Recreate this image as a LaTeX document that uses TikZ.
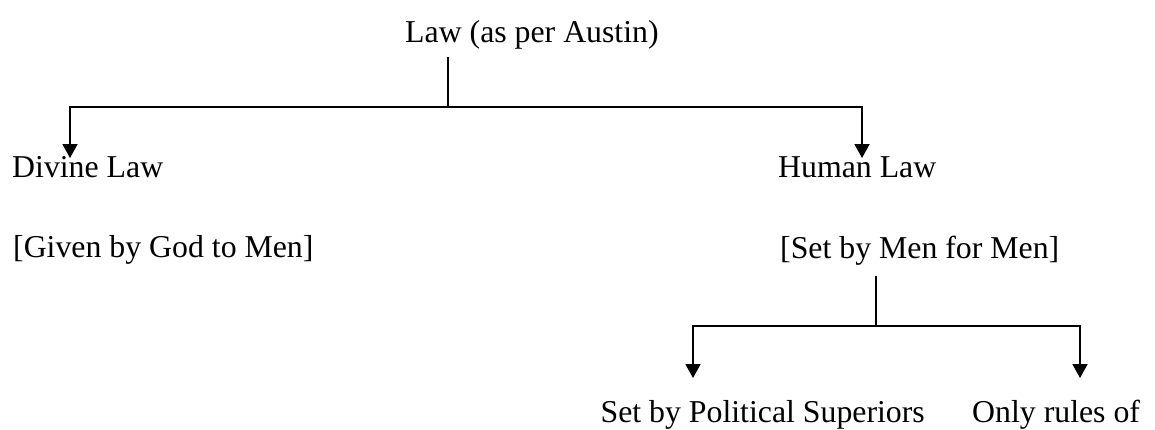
\documentclass[tikz,border=0pt]{standalone}
\usepackage{fontspec}
\setmainfont{Liberation Serif}
\usetikzlibrary{arrows.meta}
\begin{document}
\begin{tikzpicture}[x=1pt,y=-1pt,
  lbl/.style={inner sep=0pt,font=\fontsize{31.8}{38}\selectfont},
  conn/.style={line width=1.8pt,line cap=rect},
  arr/.style={line width=1.8pt,-{Triangle[width=15pt,length=14pt]}}]
\useasboundingbox[fill=white] (0,0) rectangle (1155,429);
% texts
\node[lbl,anchor=base west] (law) at (405,42) {Law (as per Austin)};
\node[lbl,anchor=base west] (divine) at (12,177) {Divine Law};
\node[lbl,anchor=base west] (human) at (778,177) {Human Law};
\node[lbl,anchor=base west] (given) at (13,257) {[Given by God to Men]};
\node[lbl,anchor=base west] (setby) at (780,258) {[Set by Men for Men]};
\node[lbl,anchor=base east] (political) at (925,422) {Set by Political Superiors};
\node[lbl,anchor=base west] (rules) at (972,422) {Only rules of};
% connector points
\coordinate (lawb) at (448,58);
\coordinate (j1) at (448,107);
\coordinate (j1l) at (70,107);
\coordinate (j1r) at (862,107);
\coordinate (divtip) at (70,158);
\coordinate (humtip) at (862,158);
\coordinate (setb) at (876,277);
\coordinate (j2) at (876,326);
\coordinate (j2l) at (693,326);
\coordinate (j2r) at (1080,326);
\coordinate (poltip) at (693,378);
\coordinate (rultip) at (1080,378);
% connectors
\draw[conn] (lawb) -- (j1);
\draw[arr] (j1) -- (j1l) -- (divtip);
\draw[arr] (j1) -- (j1r) -- (humtip);
\draw[conn] (setb) -- (j2);
\draw[arr] (j2) -- (j2l) -- (poltip);
\draw[arr] (j2) -- (j2r) -- (rultip);
\end{tikzpicture}
\end{document}
